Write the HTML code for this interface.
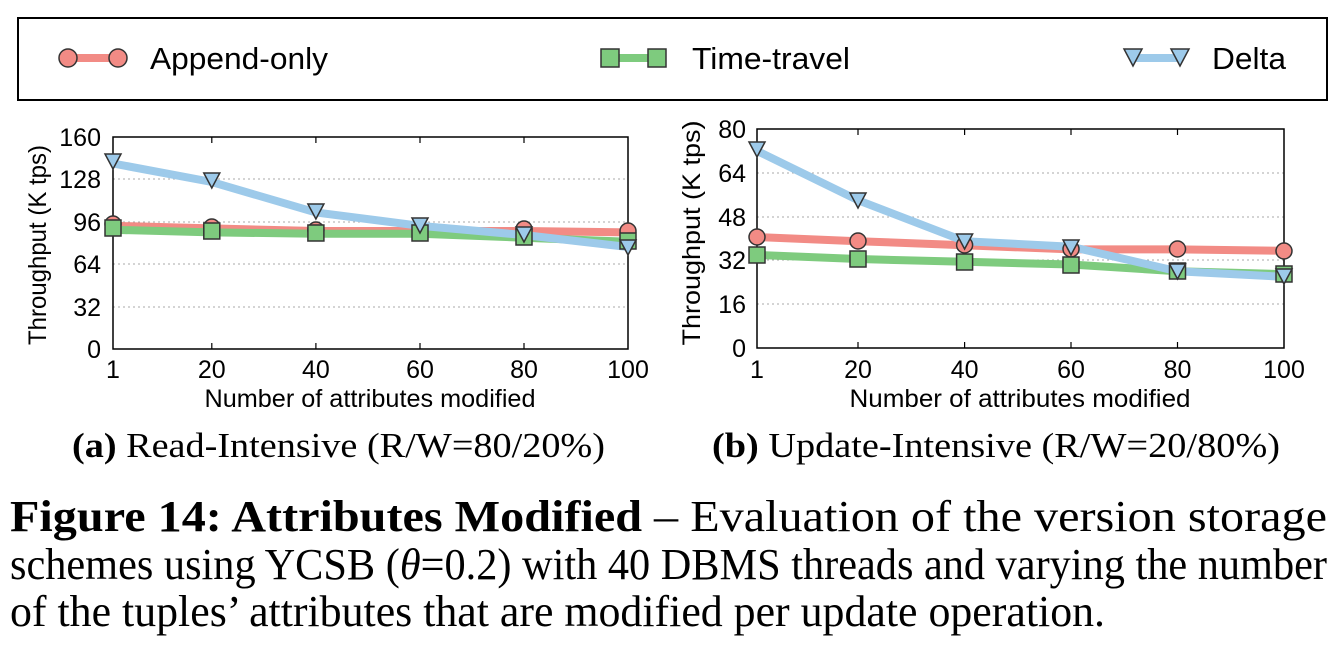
<!DOCTYPE html>
<html><head><meta charset="utf-8"><style>
html,body{margin:0;padding:0;background:#fff;}
svg{display:block;}
.t{font-family:"Liberation Sans",sans-serif;font-size:25px;fill:#000;}
.s{font-family:"Liberation Serif",serif;fill:#000;}
</style></head><body>
<svg width="1342" height="646" viewBox="0 0 1342 646" xmlns="http://www.w3.org/2000/svg">
<rect x="18" y="18" width="1309" height="82" fill="none" stroke="#000" stroke-width="2"/>
<line x1="68" y1="58" x2="118" y2="58" stroke="#f28b85" stroke-width="8"/>
<circle cx="68" cy="58" r="9" fill="#f28b85" stroke="#333" stroke-width="1.5"/>
<circle cx="118" cy="58" r="9" fill="#f28b85" stroke="#333" stroke-width="1.5"/>
<text x="150" y="69" class="t" style="font-size:31px" textLength="178" lengthAdjust="spacingAndGlyphs">Append-only</text>
<line x1="610" y1="58" x2="657" y2="58" stroke="#7ecb7e" stroke-width="8"/>
<rect x="601" y="49" width="18" height="18" fill="#7ecb7e" stroke="#333" stroke-width="1.5"/>
<rect x="648" y="49" width="18" height="18" fill="#7ecb7e" stroke="#333" stroke-width="1.5"/>
<text x="692" y="69" class="t" style="font-size:31px" textLength="158" lengthAdjust="spacingAndGlyphs">Time-travel</text>
<line x1="1133" y1="58" x2="1180" y2="58" stroke="#9dcaea" stroke-width="8"/>
<polygon points="1124,49 1142,49 1133,66" fill="#9dcaea" stroke="#333" stroke-width="1.5"/>
<polygon points="1171,49 1189,49 1180,66" fill="#9dcaea" stroke="#333" stroke-width="1.5"/>
<text x="1212" y="69" class="t" style="font-size:31px" textLength="74" lengthAdjust="spacingAndGlyphs">Delta</text>

<g stroke="#aaa" stroke-width="1" stroke-dasharray="2,3">
<line x1="113" y1="307" x2="628" y2="307"/><line x1="113" y1="264" x2="628" y2="264"/>
<line x1="113" y1="222" x2="628" y2="222"/><line x1="113" y1="179" x2="628" y2="179"/>
</g>
<rect x="113" y="137" width="515" height="212" fill="none" stroke="#000" stroke-width="1.5"/>
<g stroke="#000" stroke-width="1.2">
<line x1="211.8" y1="349" x2="211.8" y2="343"/><line x1="211.8" y1="137" x2="211.8" y2="143"/>
<line x1="315.9" y1="349" x2="315.9" y2="343"/><line x1="315.9" y1="137" x2="315.9" y2="143"/>
<line x1="420" y1="349" x2="420" y2="343"/><line x1="420" y1="137" x2="420" y2="143"/>
<line x1="524" y1="349" x2="524" y2="343"/><line x1="524" y1="137" x2="524" y2="143"/>
</g>
<g class="t" text-anchor="end">
<text x="101" y="358">0</text><text x="101" y="316">32</text><text x="101" y="273">64</text>
<text x="101" y="231">96</text><text x="101" y="188">128</text><text x="101" y="146">160</text>
</g>
<g class="t" text-anchor="middle">
<text x="113" y="378">1</text><text x="211.8" y="378">20</text><text x="315.9" y="378">40</text>
<text x="420" y="378">60</text><text x="524" y="378">80</text><text x="628" y="378">100</text>
<text x="370" y="407" textLength="331" lengthAdjust="spacingAndGlyphs">Number of attributes modified</text>
<text transform="translate(46,245) rotate(-90)" textLength="200" lengthAdjust="spacingAndGlyphs">Throughput (K tps)</text>
</g>
<polyline points="113,225.8 211.8,228.4 315.9,231 420,231 524,231 628,232.4" fill="none" stroke="#f28b85" stroke-width="8"/>
<polyline points="113,229.8 211.8,232.4 315.9,233.7 420,233.7 524,237.7 628,241.7" fill="none" stroke="#7ecb7e" stroke-width="8"/>
<polyline points="113,163.5 211.8,182 315.9,212.5 420,225.8 524,235 628,247" fill="none" stroke="#9dcaea" stroke-width="8"/>
<g fill="#f28b85" stroke="#333" stroke-width="1.5">
<circle cx="113" cy="224" r="8"/><circle cx="211.8" cy="227" r="8"/><circle cx="315.9" cy="230" r="8"/><circle cx="524" cy="229" r="8"/><circle cx="628" cy="231" r="8"/>
</g>
<g fill="#7ecb7e" stroke="#333" stroke-width="1.5">
<rect x="105" y="220" width="16" height="16"/><rect x="203.8" y="223" width="16" height="16"/><rect x="307.9" y="225" width="16" height="16"/><rect x="412" y="225" width="16" height="16"/><rect x="516" y="229" width="16" height="16"/><rect x="620" y="233" width="16" height="16"/>
</g>
<g fill="#9dcaea" stroke="#333" stroke-width="1.5">
<polygon points="105,154 121,154 113,169"/><polygon points="203.8,173 219.8,173 211.8,188"/><polygon points="307.9,204 323.9,204 315.9,219"/><polygon points="412,218 428,218 420,233"/><polygon points="516,227 532,227 524,242"/><polygon points="620,240 636,240 628,255"/>
</g>

<g stroke="#aaa" stroke-width="1" stroke-dasharray="2,3">
<line x1="757" y1="304" x2="1284" y2="304"/><line x1="757" y1="260" x2="1284" y2="260"/>
<line x1="757" y1="217" x2="1284" y2="217"/><line x1="757" y1="173" x2="1284" y2="173"/>
</g>
<rect x="757" y="129" width="527" height="219" fill="none" stroke="#000" stroke-width="1.5"/>
<g stroke="#000" stroke-width="1.2">
<line x1="858" y1="348" x2="858" y2="342"/><line x1="858" y1="129" x2="858" y2="135"/>
<line x1="964.6" y1="348" x2="964.6" y2="342"/><line x1="964.6" y1="129" x2="964.6" y2="135"/>
<line x1="1071" y1="348" x2="1071" y2="342"/><line x1="1071" y1="129" x2="1071" y2="135"/>
<line x1="1177.5" y1="348" x2="1177.5" y2="342"/><line x1="1177.5" y1="129" x2="1177.5" y2="135"/>
</g>
<g class="t" text-anchor="end">
<text x="746" y="357">0</text><text x="746" y="313">16</text><text x="746" y="269">32</text>
<text x="746" y="226">48</text><text x="746" y="182">64</text><text x="746" y="138">80</text>
</g>
<g class="t" text-anchor="middle">
<text x="757" y="378">1</text><text x="858" y="378">20</text><text x="964.6" y="378">40</text>
<text x="1071" y="378">60</text><text x="1177.5" y="378">80</text><text x="1284" y="378">100</text>
<text x="1020" y="407" textLength="341" lengthAdjust="spacingAndGlyphs">Number of attributes modified</text>
<text transform="translate(700,233) rotate(-90)" textLength="225" lengthAdjust="spacingAndGlyphs">Throughput (K tps)</text>
</g>
<polyline points="757,237.1 858,241.2 964.6,245.3 1071,249.4 1177.5,249.4 1284,250.8" fill="none" stroke="#f28b85" stroke-width="8"/>
<polyline points="757,254.9 858,259 964.6,261.8 1071,264.5 1177.5,271.3 1284,274.1" fill="none" stroke="#7ecb7e" stroke-width="8"/>
<polyline points="757,150.9 858,200.2 964.6,241.2 1071,246.7 1177.5,271.3 1284,276.8" fill="none" stroke="#9dcaea" stroke-width="8"/>
<g fill="#f28b85" stroke="#333" stroke-width="1.5">
<circle cx="757" cy="237" r="8"/><circle cx="858" cy="241" r="8"/><circle cx="964.6" cy="245" r="8"/><circle cx="1071" cy="249" r="8"/><circle cx="1177.5" cy="249" r="8"/><circle cx="1284" cy="251" r="8"/>
</g>
<g fill="#7ecb7e" stroke="#333" stroke-width="1.5">
<rect x="749" y="247" width="16" height="16"/><rect x="850" y="251" width="16" height="16"/><rect x="956.6" y="254" width="16" height="16"/><rect x="1063" y="257" width="16" height="16"/><rect x="1169.5" y="263" width="16" height="16"/><rect x="1276" y="266" width="16" height="16"/>
</g>
<g fill="#9dcaea" stroke="#333" stroke-width="1.5">
<polygon points="749,142 765,142 757,157"/><polygon points="850,193 866,193 858,208"/><polygon points="956.6,234 972.6,234 964.6,249"/><polygon points="1063,240 1079,240 1071,255"/><polygon points="1169.5,264 1185.5,264 1177.5,279"/><polygon points="1276,269 1292,269 1284,284"/>
</g>

<text x="72" y="457" class="s" style="font-size:35px" textLength="533" lengthAdjust="spacingAndGlyphs"><tspan font-weight="bold">(a)</tspan> Read-Intensive (R/W=80/20%)</text>
<text x="712" y="457" class="s" style="font-size:35px" textLength="568" lengthAdjust="spacingAndGlyphs"><tspan font-weight="bold">(b)</tspan> Update-Intensive (R/W=20/80%)</text>
<text x="10" y="531" class="s" style="font-size:44px" textLength="1317" lengthAdjust="spacingAndGlyphs"><tspan font-weight="bold">Figure 14:  Attributes Modified</tspan> – Evaluation of the version storage</text>
<text x="10" y="579" class="s" style="font-size:44px" textLength="1317" lengthAdjust="spacingAndGlyphs">schemes using YCSB (<tspan font-style="italic">θ</tspan>=0.2) with 40 DBMS threads and varying the number</text>
<text x="10" y="626" class="s" style="font-size:44px" textLength="1095" lengthAdjust="spacingAndGlyphs">of the tuples’ attributes that are modified per update operation.</text>
</svg>
</body></html>
